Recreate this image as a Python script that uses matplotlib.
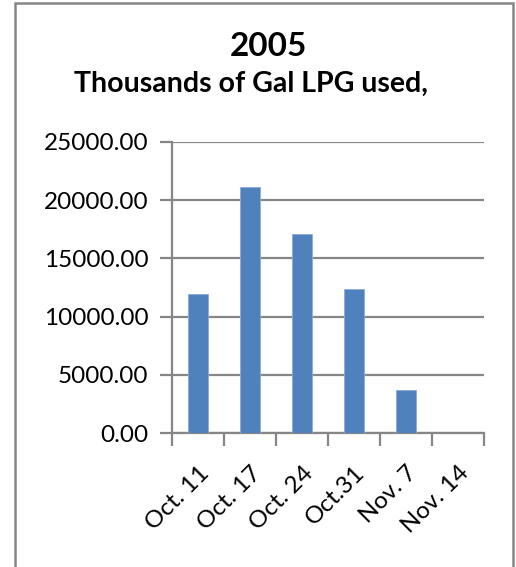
import matplotlib
matplotlib.use("Agg")
import matplotlib.pyplot as plt
from matplotlib.patches import Rectangle
import numpy as np

weeks = ["Oct. 11", "Oct. 17", "Oct. 24", "Oct.31", "Nov. 7", "Nov. 14"]
gallons = [11900, 21100, 17100, 12400, 3700, 0]
yticks = [0, 5000, 10000, 15000, 20000, 25000]

plt.rcParams['font.family'] = ['Lato', 'DejaVu Sans']

W, H = 516, 567
fig = plt.figure(figsize=(W / 100, H / 100), dpi=100)
ax = fig.add_axes([172 / W, 1 - 433 / H, 312 / W, 291 / H])

grey = "#868686"
x = np.arange(len(weeks))
ax.bar(x, gallons, width=0.4, color="#4F81BD", edgecolor="#8FAADC", linewidth=0.6, zorder=3)

ax.set_xlim(-0.5, len(weeks) - 0.5)
ax.set_ylim(0, 25000)
ax.set_yticks(yticks)
ax.set_yticklabels([f"{v:.2f}" for v in yticks], fontsize=17.5)
ax.yaxis.grid(True, color=grey, linewidth=1.6, zorder=0)

# category ticks sit on the boundaries between bars
ax.set_xticks(np.arange(len(weeks) + 1) - 0.5)
ax.set_xticklabels([])
ax.set_xticks(x, minor=True)
ax.set_xticklabels(weeks, minor=True, rotation=45, ha="right", va="top",
                   rotation_mode="anchor", fontsize=17.5)
ax.tick_params(axis="x", which="minor", length=0, pad=21)
ax.tick_params(axis="x", which="major", length=9, width=1.6, color=grey)
ax.tick_params(axis="y", length=9, width=1.6, color=grey, pad=8)

for s in ["top", "right"]:
    ax.spines[s].set_visible(False)
for s in ["left", "bottom"]:
    ax.spines[s].set_color(grey)
    ax.spines[s].set_linewidth(1.6)

fig.text(268 / W, 1 - 47 / H, "2005", ha="center", va="center",
         fontsize=24, fontweight="bold")
fig.text(251 / W, 1 - 84 / H, "Thousands of Gal LPG used,", ha="center", va="center",
         fontsize=20.5, fontweight="bold")

# chart area border
fig.patches.append(Rectangle((15 / W, -0.05), 498 / W, 1.05 - 3 / H,
                             transform=fig.transFigure, fill=False,
                             edgecolor=grey, linewidth=1.8))

fig.savefig("out.png", dpi=100)
